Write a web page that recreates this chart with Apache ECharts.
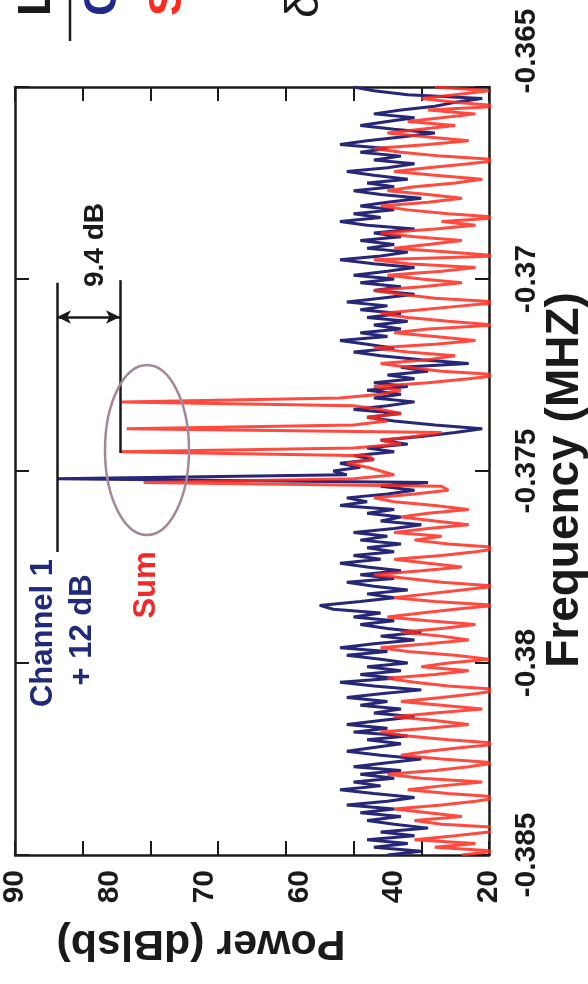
<!DOCTYPE html>
<html><head><meta charset="utf-8">
<script src="https://cdn.jsdelivr.net/npm/echarts@6/dist/echarts.min.js"></script>
<style>html,body{margin:0;padding:0;background:#fff}#chart{width:588px;height:984px}</style>
</head><body><div id="chart"></div>
<script>
const freqMHz = [
-0.3850,-0.3849,-0.3848,-0.3847,-0.3846,-0.3845,-0.3844,-0.3843,-0.3842,-0.3841,
-0.3840,-0.3839,-0.3838,-0.3837,-0.3836,-0.3835,-0.3834,-0.3833,-0.3832,-0.3831,
-0.3830,-0.3829,-0.3828,-0.3827,-0.3826,-0.3825,-0.3824,-0.3823,-0.3822,-0.3821,
-0.3820,-0.3819,-0.3818,-0.3817,-0.3816,-0.3815,-0.3814,-0.3813,-0.3812,-0.3811,
-0.3810,-0.3809,-0.3808,-0.3807,-0.3806,-0.3805,-0.3804,-0.3803,-0.3802,-0.3801,
-0.3800,-0.3799,-0.3798,-0.3797,-0.3796,-0.3795,-0.3794,-0.3793,-0.3792,-0.3791,
-0.3790,-0.3789,-0.3788,-0.3787,-0.3786,-0.3785,-0.3784,-0.3783,-0.3782,-0.3781,
-0.3780,-0.3779,-0.3778,-0.3777,-0.3776,-0.3775,-0.3774,-0.3773,-0.3772,-0.3771,
-0.3770,-0.3769,-0.3768,-0.3767,-0.3766,-0.3765,-0.3764,-0.3763,-0.3762,-0.3761,
-0.3760,-0.3759,-0.3758,-0.3757,-0.3756,-0.3755,-0.3754,-0.3753,-0.3752,-0.3751,
-0.3750,-0.3749,-0.3748,-0.3747,-0.3746,-0.3745,-0.3744,-0.3743,-0.3742,-0.3741,
-0.3740,-0.3739,-0.3738,-0.3737,-0.3736,-0.3735,-0.3734,-0.3733,-0.3732,-0.3731,
-0.3730,-0.3729,-0.3728,-0.3727,-0.3726,-0.3725,-0.3724,-0.3723,-0.3722,-0.3721,
-0.3720,-0.3719,-0.3718,-0.3717,-0.3716,-0.3715,-0.3714,-0.3713,-0.3712,-0.3711,
-0.3710,-0.3709,-0.3708,-0.3707,-0.3706,-0.3705,-0.3704,-0.3703,-0.3702,-0.3701,
-0.3700,-0.3699,-0.3698,-0.3697,-0.3696,-0.3695,-0.3694,-0.3693,-0.3692,-0.3691,
-0.3690,-0.3689,-0.3688,-0.3687,-0.3686,-0.3685,-0.3684,-0.3683,-0.3682,-0.3681,
-0.3680,-0.3679,-0.3678,-0.3677,-0.3676,-0.3675,-0.3674,-0.3673,-0.3672,-0.3671,
-0.3670,-0.3669,-0.3668,-0.3667,-0.3666,-0.3665,-0.3664,-0.3663,-0.3662,-0.3661,
-0.3660,-0.3659,-0.3658,-0.3657,-0.3656,-0.3655,-0.3654,-0.3653,-0.3652,-0.3651,
-0.3650];

const channel1Plus12 = [
35,30,37,32,38,31,36,29,34,38,
33,39,34,41,35,31,37,42,36,40,
34,39,33,40,35,30,36,41,37,33,
38,32,40,35,41,36,31,37,33,39,
35,41,36,30,37,42,34,39,33,38,
32,36,41,35,42,37,31,36,30,35,
39,34,40,36,43,45,39,34,38,32,
37,41,34,39,33,38,42,36,40,34,
38,33,39,35,40,34,30,36,33,38,
34,42,38,41,35,31,36,29,83.8,41,
43,39,42,37,40,34,38,32,36,30,
25,21,28,34,38,33,40,35,31,37,
33,38,32,37,31,35,29,33,23,30,
36,40,34,38,42,35,39,33,37,32,
38,33,39,35,41,36,31,37,33,39,
34,40,35,31,37,42,36,32,38,34,
39,33,37,31,38,42,36,40,34,39,
35,30,36,40,34,38,32,37,41,35,
31,37,33,39,35,42,38,33,28,34,
39,35,31,37,33,28,25,21,32,37,
40];

const sumPower = [
24,19,28,22,31,25,20,17,27,31,
24,29,34,27,22,18,26,32,27,21,
30,35,28,23,19,27,33,29,24,18,
26,32,36,29,23,28,34,28,21,27,
33,27,22,18,26,31,35,28,23,30,
26,20,25,32,36,29,23,27,33,27,
22,29,35,30,25,19,28,34,29,24,
19,27,32,37,30,24,29,34,27,22,
18,26,31,27,34,29,23,28,33,29,
23,28,34,37,31,26,27,71,40,34,
36,38,41,37,38,74.5,40,33,36,31,
27,73.5,40,35,38,33,36,40,74.2,42,
36,33,37,29,23,18,27,32,36,29,
25,32,37,28,22,28,34,29,19,26,
32,36,30,24,18,28,33,37,30,24,
30,35,27,22,32,37,18,26,34,29,
24,31,36,28,22,27,18,26,32,36,
29,24,29,35,31,25,21,28,34,29,
23,18,27,33,37,29,23,29,35,30,
25,32,27,22,29,18,25,30,25,20,
28];

const powerTickLabels = ['90','80','70','60','40','20'];
const freqTicks = [-0.385,-0.38,-0.375,-0.37,-0.365];
const channel1Level = 83.8;
const sumLevel = 74.5;

const FONT = "'Liberation Sans', Arial, Helvetica, sans-serif";
const INK = '#1a1a1a';
const NAVY = '#272778';
const RED = '#ff2a1f';

const chart = echarts.init(document.getElementById('chart'), null, {renderer:'canvas'});

const frameAxis = {
  axisLine:{show:true, onZero:false, lineStyle:{color:INK, width:2.5}},
  axisTick:{show:true, inside:true, length:14, lineStyle:{color:INK, width:2}},
  splitLine:{show:false}
};

function fmtFreq(v){
  const r = Math.round(v*1000)/1000;
  const s = String(r);
  if (Math.abs(r - freqTicks[freqTicks.length-1]) < 1e-9) return '{t|' + s + '}';
  return s;
}

chart.setOption({
  animation:false,
  backgroundColor:'#ffffff',
  grid:{left:15, right:99, top:87, bottom:129, containLabel:false, outerBoundsMode:'none'},
  xAxis:[
    Object.assign({type:'value', min:20, max:90, interval:10, inverse:true, position:'bottom',
      axisLabel:{show:false}}, frameAxis),
    Object.assign({type:'value', min:20, max:90, interval:10, inverse:true, position:'top',
      axisLabel:{show:false}}, frameAxis),
    {type:'category', data:powerTickLabels, boundaryGap:false, position:'bottom',
      axisLine:{show:false}, axisTick:{show:false}, splitLine:{show:false},
      axisLabel:{interval:0, rotate:90, margin:15, fontSize:30, fontWeight:'bold', color:INK, fontFamily:FONT},
      name:'Power (dBlsb)', nameLocation:'middle', nameGap:66, nameRotate:180, nameMoveOverlap:false,
      nameTextStyle:{fontSize:43, fontWeight:'bold', color:INK, fontFamily:FONT, padding:[0,0,0,102]}}
  ],
  yAxis:[
    Object.assign({type:'value', min:-0.385, max:-0.365, interval:0.005, position:'right',
      axisLabel:{show:true, rotate:90, margin:23, fontSize:30, fontWeight:'bold', color:INK, fontFamily:FONT,
        formatter:fmtFreq,
        rich:{t:{fontSize:30, fontWeight:'bold', color:INK, fontFamily:FONT, padding:[0,0,0,72]}}},
      name:'Frequency (MHZ)', nameLocation:'middle', nameGap:53, nameRotate:90, nameMoveOverlap:false,
      nameTextStyle:{fontSize:46, fontWeight:'bold', color:INK, fontFamily:FONT, padding:[0,18,0,0]}}, frameAxis),
    Object.assign({type:'value', min:-0.385, max:-0.365, interval:0.005, position:'left',
      axisLabel:{show:false}}, frameAxis)
  ],
  series:[
    {type:'line', name:'Channel 1 + 12 dB', xAxisIndex:0, yAxisIndex:0,
      data:channel1Plus12.map((p,i)=>[p, freqMHz[i]]),
      showSymbol:false, symbol:'none', clip:true, z:2,
      lineStyle:{color:NAVY, width:3},
      markLine:{silent:true, symbol:['none','none'], label:{show:false}, animation:false,
        lineStyle:{color:INK, width:2.5, type:'solid'},
        emphasis:{disabled:true},
        data:[
          [{coord:[channel1Level,-0.37010]},{coord:[channel1Level,-0.37711]}],
          [{coord:[sumLevel,-0.37003]},{coord:[sumLevel,-0.37453]}],
          [{coord:[channel1Level,-0.37099], symbol:'arrow', symbolSize:[10,14]},
           {coord:[sumLevel,-0.37099], symbol:'arrow', symbolSize:[10,14]}]
        ]}
    },
    {type:'line', name:'Sum', xAxisIndex:0, yAxisIndex:0,
      data:sumPower.map((p,i)=>[p, freqMHz[i]]),
      showSymbol:false, symbol:'none', clip:true, z:3,
      lineStyle:{color:RED, width:3, opacity:0.85}
    }
  ],
  graphic:[
    {type:'text', x:43, y:633, rotation:Math.PI/2, z:10,
      style:{text:'Channel 1', fill:'#1f2a7a', font:'bold 31px '+FONT, align:'center', verticalAlign:'middle'}},
    {type:'text', x:82, y:630, rotation:Math.PI/2, z:10,
      style:{text:'+ 12 dB', fill:'#1f2a7a', font:'bold 31px '+FONT, align:'center', verticalAlign:'middle'}},
    {type:'text', x:146, y:585, rotation:Math.PI/2, z:10,
      style:{text:'Sum', fill:'#f02a2a', font:'bold 31px '+FONT, align:'center', verticalAlign:'middle'}},
    {type:'text', x:95, y:245, rotation:Math.PI/2, z:10,
      style:{text:'9.4 dB', fill:INK, font:'bold 28px '+FONT, align:'center', verticalAlign:'middle'}},
    {type:'ellipse', shape:{cx:147, cy:450, rx:42, ry:85}, z:10,
      style:{fill:null, stroke:'#a4889a', lineWidth:2.5}},
    {type:'text', x:37, y:16, rotation:Math.PI/2, z:10,
      style:{text:'L', fill:INK, font:'bold 46px '+FONT, align:'left', verticalAlign:'middle'}},
    {type:'line', shape:{x1:70, y1:0, x2:70, y2:41}, z:10, style:{stroke:INK, lineWidth:2.5}},
    {type:'text', x:103, y:16, rotation:Math.PI/2, z:10,
      style:{text:'C', fill:'#1f2a8a', font:'bold 46px '+FONT, align:'left', verticalAlign:'middle'}},
    {type:'text', x:168, y:16, rotation:Math.PI/2, z:10,
      style:{text:'S', fill:RED, font:'bold 46px '+FONT, align:'left', verticalAlign:'middle'}},
    {type:'text', x:305, y:18, rotation:Math.PI/2, z:10,
      style:{text:'δ', fill:INK, font:'46px '+FONT, align:'left', verticalAlign:'middle'}}
  ]
});
</script></body></html>
